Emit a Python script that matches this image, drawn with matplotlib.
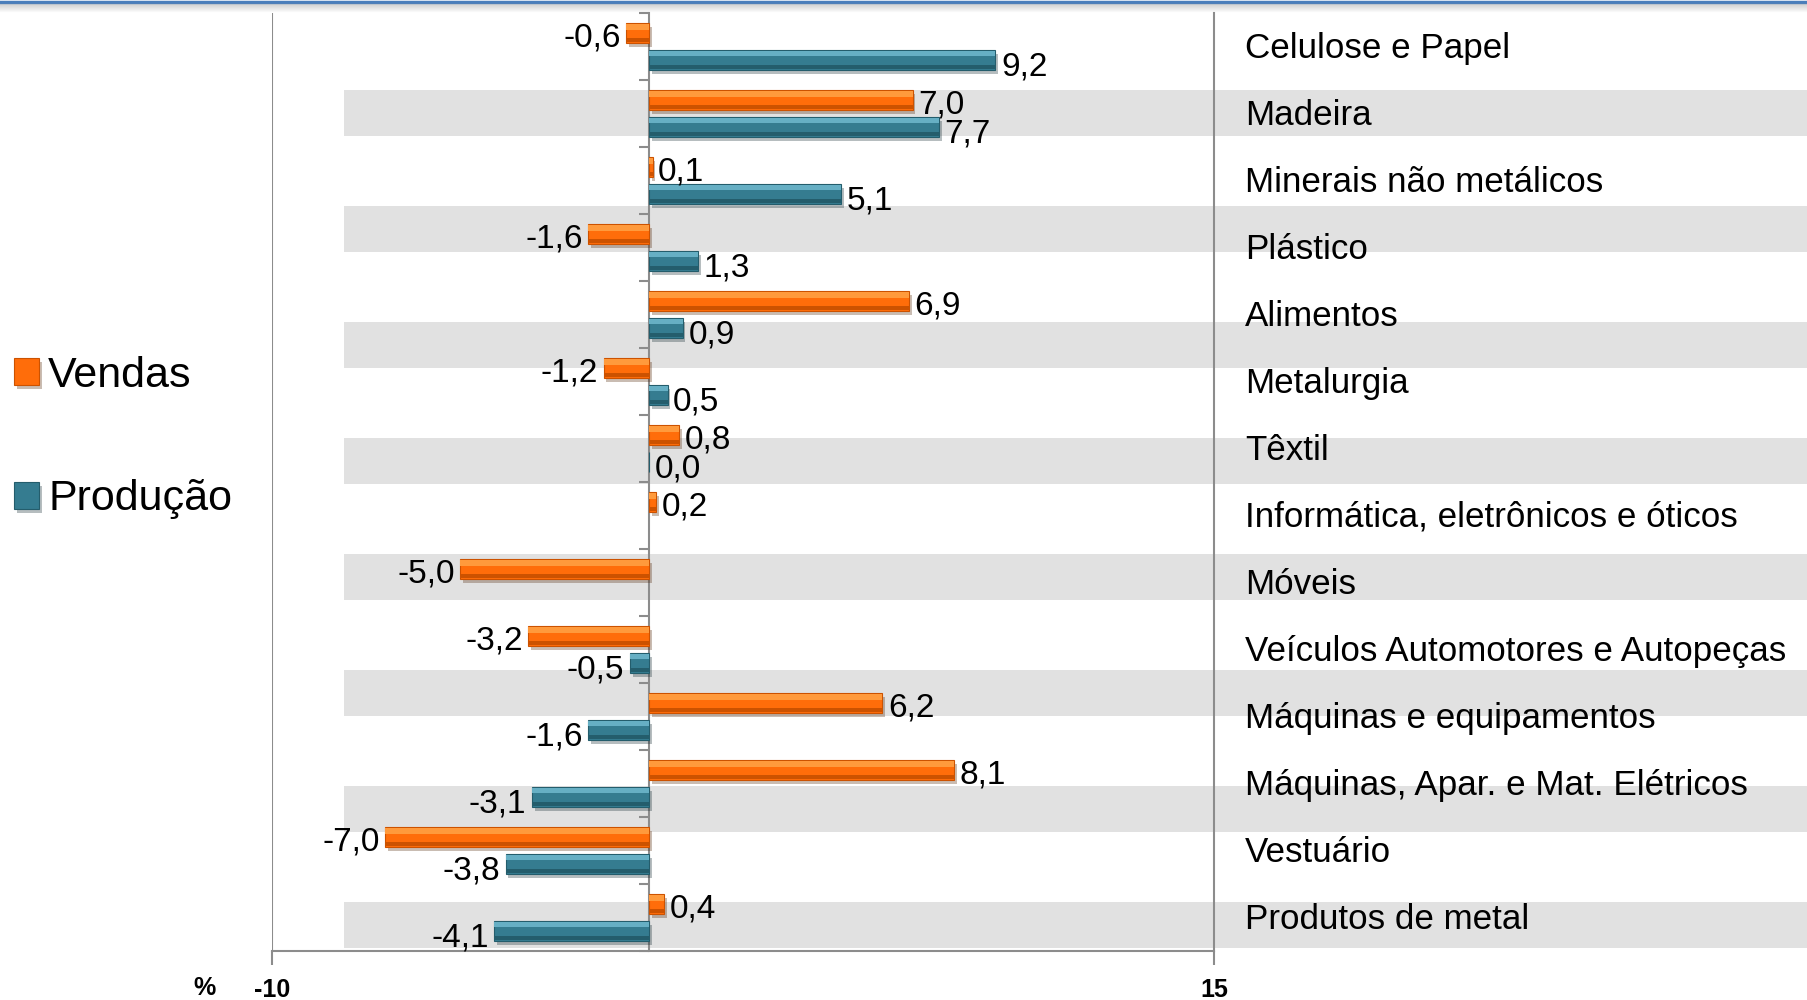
import numpy as np
import matplotlib.pyplot as plt
import matplotlib.patheffects as pe
from matplotlib import transforms
from matplotlib.lines import Line2D
from matplotlib.patches import Rectangle

categories = [
    "Celulose e Papel", "Madeira", "Minerais não metálicos", "Plástico",
    "Alimentos", "Metalurgia", "Têxtil", "Informática, eletrônicos e óticos",
    "Móveis", "Veículos Automotores e Autopeças", "Máquinas e equipamentos",
    "Máquinas, Apar. e Mat. Elétricos", "Vestuário", "Produtos de metal",
]
vendas = [-0.6, 7.0, 0.1, -1.6, 6.9, -1.2, 0.8, 0.2, -5.0, -3.2, 6.2, 8.1, -7.0, 0.4]
producao = [9.2, 7.7, 5.1, 1.3, 0.9, 0.5, 0.0, np.nan, np.nan, -0.5, -1.6, -3.1, -3.8, -4.1]
x_ticks = [-10, 15]

plt.rcParams['font.family'] = ['Liberation Sans', 'DejaVu Sans']

GRID = '#8c8c8c'
fig = plt.figure(figsize=(18.08, 10), dpi=100)
ax = fig.add_axes([0.1504, 0.0493, 0.5211, 0.938])
ax.set_facecolor('none')

n = len(categories)
y = np.arange(n)
h = 0.3


def fmt(v):
    return f"{v:.1f}".replace('.', ',')


def bevel_bars(pos, vals, base, light, dark, label, dy):
    vals = np.asarray(vals, dtype=float)
    ok = ~np.isnan(vals)
    bars = ax.barh(pos[ok], vals[ok], height=h, color=base, lw=0.8, edgecolor=dark,
                   zorder=3, label=label,
                   path_effects=[pe.SimplePatchShadow(offset=(2, -3), alpha=0.3), pe.Normal()])
    ax.barh(pos[ok] - h * 0.3, vals[ok], height=h * 0.28, color=light, lw=0, zorder=4)
    ax.barh(pos[ok] + h * 0.36, vals[ok], height=h * 0.22, color=dark, lw=0, zorder=4)
    for yi, v in zip(pos[ok], vals[ok]):
        ax.annotate(fmt(v), (v, yi), xytext=(4 if v >= 0 else -4, dy),
                    textcoords='offset points', ha='left' if v >= 0 else 'right',
                    va='center', fontsize=24, zorder=5)
    return bars


b1 = bevel_bars(y - 0.2, vendas, '#ff6d0a', '#ff9a3c', '#cc5200', 'Vendas', -3.7)
b2 = bevel_bars(y + 0.2, producao, '#357c90', '#66afc4', '#245d6c', 'Produção', -5.6)

ax.set_xlim(-10, 15)
ax.set_ylim(n - 0.5, -0.5)

# spines: category axis sits on zero
ax.spines['left'].set_position(('data', 0))
for s in ['left', 'right', 'bottom']:
    ax.spines[s].set_color(GRID)
    ax.spines[s].set_linewidth(1.5)
ax.spines['top'].set_visible(False)
ax.axvline(-10, color=GRID, lw=1.5, zorder=2)

ax.set_yticks(np.arange(-0.5, n), labels=[])
ax.tick_params(axis='y', length=7, width=1.5, color=GRID, direction='out')
ax.set_xticks(x_ticks, labels=[str(t) for t in x_ticks])
ax.tick_params(axis='x', length=10, width=1.5, color=GRID, direction='out', pad=10,
               labelsize=18)
for lab in ax.get_xticklabels():
    lab.set_fontweight('bold')
fig.text(205 / 1808, 1 - 988 / 1000, '%', fontsize=18, fontweight='bold',
         ha='center', va='center')

# striped background behind the chart and the category names
band_tr = transforms.blended_transform_factory(fig.transFigure, ax.transAxes)
for k in range(8):
    ax.add_patch(Rectangle((0.19, 0.003 + 0.1237 * k), 0.81, 0.049, transform=band_tr,
                           color='#e1e1e1', lw=0, zorder=0, clip_on=False))

# category names on the right
lab_tr = transforms.blended_transform_factory(fig.transFigure, ax.transData)
for yi, name in zip(y, categories):
    ax.text(0.6886, yi + 0.03, name, transform=lab_tr, va='center', ha='left', fontsize=25.2)

fig.legend(handles=[b1, b2], labels=['Vendas', 'Produção'], loc='center left',
           bbox_to_anchor=(0.008, 0.5625), frameon=False, fontsize=31,
           handlelength=0.58, handleheight=0.58, handletextpad=0.2,
           labelspacing=1.95, borderpad=0, borderaxespad=0)

# slide border at the top
fig.add_artist(Line2D([0, 1], [0.9985, 0.9985], transform=fig.transFigure,
                      color='#4a7ebb', lw=2.5))
for j in range(8):
    yy = 0.9965 - j * 0.001
    fig.add_artist(Line2D([0, 1], [yy, yy], transform=fig.transFigure,
                          color='#9a9a9a', lw=1, alpha=0.35 * (1 - j / 8)))

fig.savefig('out.png', dpi=100)
